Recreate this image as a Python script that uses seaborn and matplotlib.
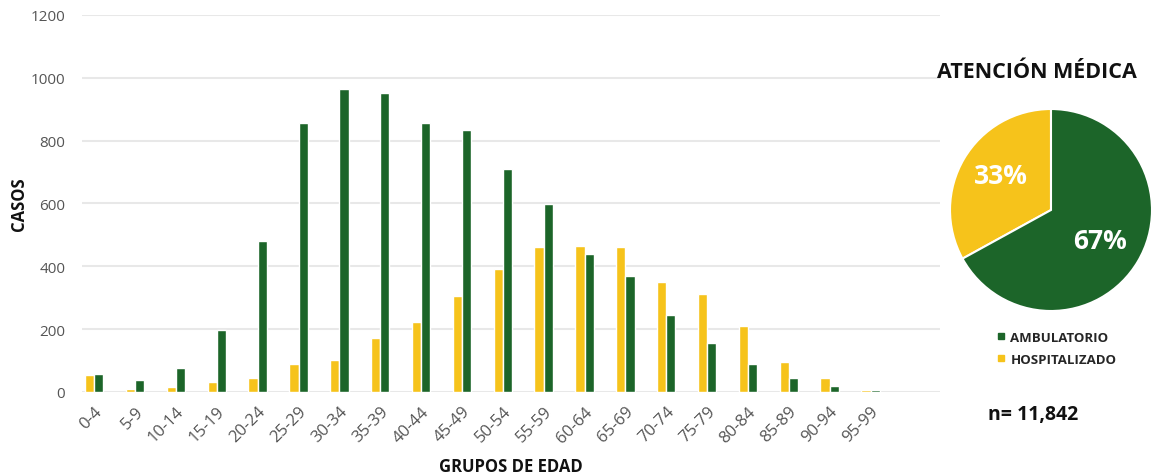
import matplotlib.pyplot as plt
from matplotlib.lines import Line2D
import seaborn as sns
import pandas as pd

grupos = ["0-4", "5-9", "10-14", "15-19", "20-24", "25-29", "30-34", "35-39",
          "40-44", "45-49", "50-54", "55-59", "60-64", "65-69", "70-74",
          "75-79", "80-84", "85-89", "90-94", "95-99"]
hospitalizado = [53, 10, 16, 32, 45, 90, 103, 173, 223, 305, 390, 460, 464,
                 461, 349, 312, 210, 95, 45, 6]
ambulatorio = [58, 37, 76, 198, 481, 855, 963, 953, 855, 834, 711, 597, 440,
               369, 246, 157, 90, 46, 19, 6]
tipos = ["AMBULATORIO", "HOSPITALIZADO"]
pie_pct = [67, 33]
n_total = "11,842"

verde = "#1c6529"
amarillo = "#f6c31b"

df = pd.DataFrame({"grupo": grupos, "HOSPITALIZADO": hospitalizado,
                   "AMBULATORIO": ambulatorio})
df = df.melt(id_vars="grupo", var_name="tipo", value_name="casos")

sns.set_theme(style="white")
plt.rcParams["font.family"] = ["Open Sans", "DejaVu Sans"]

fig = plt.figure(figsize=(11.52, 4.77), dpi=100)
ax = fig.add_axes([82 / 1152, 1 - 393 / 477, (940 - 82) / 1152, (393 - 16) / 477])

sns.barplot(data=df, x="grupo", y="casos", hue="tipo", order=grupos,
            hue_order=["HOSPITALIZADO", "AMBULATORIO"],
            palette={"HOSPITALIZADO": amarillo, "AMBULATORIO": verde},
            width=0.45, ax=ax, legend=False, saturation=1)
ax.set_ylim(0, 1200)
ax.set_xlim(-0.3, 20.7)
ax.set_yticks(range(0, 1201, 200))
ax.yaxis.grid(True, color="#e8e8e8", linewidth=1.5)
ax.set_axisbelow(True)
for s in ax.spines.values():
    s.set_visible(False)
ax.tick_params(axis="y", length=0, colors="#555555", labelsize=11, pad=12)
ax.tick_params(axis="x", length=0, colors="#555555", labelsize=12, pad=8)
plt.setp(ax.get_xticklabels(), rotation=45, ha="right", rotation_mode="anchor")
ax.set_ylabel("CASOS", fontsize=12, fontweight="bold", color="#111111")
ax.yaxis.set_label_coords(-0.063, 0.5)
ax.set_xlabel("GRUPOS DE EDAD", fontsize=12, fontweight="bold", color="#111111")
ax.xaxis.set_label_coords(0.5, -0.172)

# pie
pax = fig.add_axes([949 / 1152, 1 - 313 / 477, 204 / 1152, 204 / 477])
wedges, texts = pax.pie([pie_pct[1], pie_pct[0]], colors=[amarillo, verde],
                        startangle=90, counterclock=True,
                        wedgeprops={"edgecolor": "white", "linewidth": 1.5})
pax.set_xlim(-1.01, 1.01)
pax.set_ylim(-1.01, 1.01)
pax.set_aspect("equal")
pax.text(-0.5, 0.34, f"{pie_pct[1]}%", color="white", fontsize=19,
         fontweight="bold", ha="center", va="center")
pax.text(0.49, -0.3, f"{pie_pct[0]}%", color="white", fontsize=19,
         fontweight="bold", ha="center", va="center")

fig.text(1037 / 1152, 1 - 72 / 477, "ATENCIÓN MÉDICA", fontsize=15.5,
         fontweight="bold", ha="center", va="center", color="#111111")

handles = [Line2D([], [], marker="s", linestyle="", color=verde, markersize=4),
           Line2D([], [], marker="s", linestyle="", color=amarillo, markersize=4)]
fig.legend(handles, tipos, loc="upper left", bbox_to_anchor=(984 / 1152, 1 - 320 / 477),
           frameon=False, handlelength=0.8, handletextpad=0.3, labelspacing=0.7,
           prop={"weight": "bold", "size": 9.5})

fig.text(1033 / 1152, 1 - 415 / 477, f"n= {n_total}", fontsize=14,
         fontweight="bold", ha="center", va="center", color="#111111")

fig.savefig("out.png", dpi=100)
